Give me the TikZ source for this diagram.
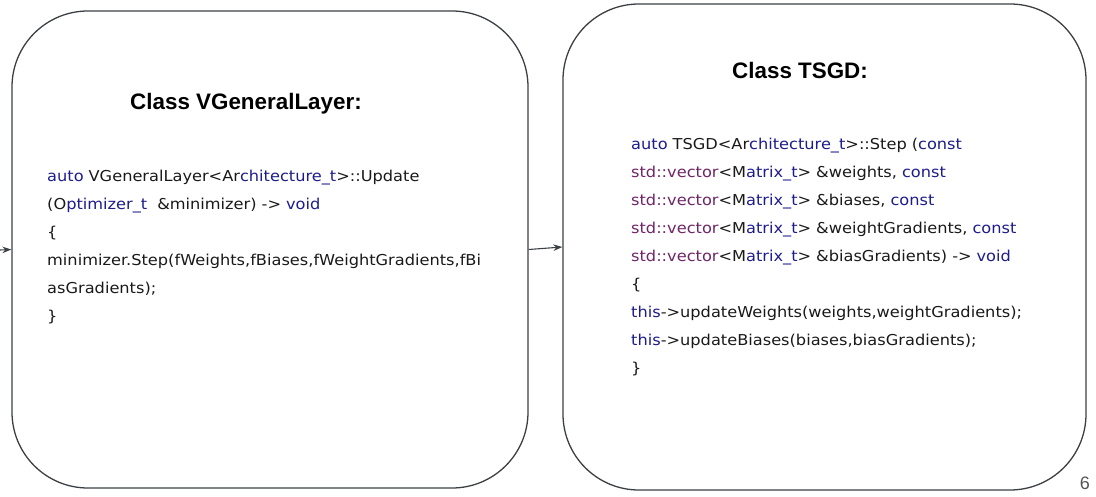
\documentclass[tikz,border=0pt]{standalone}
\usepackage{fontspec}
\setmainfont{Liberation Sans}
\newfontfamily\codefont[FakeStretch=1.08]{DejaVu Sans}
\usetikzlibrary{arrows.meta}
\definecolor{kw}{RGB}{28,28,140}
\definecolor{tp}{RGB}{112,36,104}
\definecolor{edgec}{RGB}{60,64,68}
\definecolor{txt}{RGB}{25,25,25}
\newcommand{\kwd}[1]{\textcolor{kw}{#1}}
\newcommand{\tpd}[1]{\textcolor{tp}{#1}}
\begin{document}
\begin{tikzpicture}[x=1pt,y=-1pt,
 box/.style={draw=edgec, line width=1.3pt, rounded corners=76pt, inner sep=0pt},
 title/.style={font=\fontsize{22.4}{26}\selectfont\bfseries, anchor=base west, inner sep=0pt},
 code/.style={font=\codefont\fontsize{15}{28}\selectfont, text=txt, anchor=base west, inner sep=0pt, align=left, text width=500pt},
 link/.style={draw=edgec, line width=1.1pt, -{Stealth[length=9pt,width=6.5pt]}}]
\useasboundingbox (0,0) rectangle (1096,497);
\node[box, minimum width=516pt, minimum height=477pt] (L) at (270,249.5) {};
\node[box, minimum width=523pt, minimum height=486pt] (R) at (824.5,247) {};
\node[title] (tL) at (130,110) {Class VGeneralLayer:};
\node[title] (tR) at (732,79) {Class TSGD:};
\node[code] (cL) at (47,182) {\kwd{auto} VGeneralLayer<Ar\kwd{chitecture\_t}>::Update\\
(O\kwd{ptimizer\_t}\ \ \&minimizer) -> \kwd{void}\\
\{\\
minimizer.Step(fWeights,fBiases,fWeightGradients,fBi\\
asGradients);\\
\}};
\node[code] (cR) at (631,150) {\kwd{auto} TSGD<Ar\kwd{chitecture\_t}>::Step (\kwd{const}\\
\tpd{std::vector}<M\kwd{atrix\_t}> \&weights, \kwd{const}\\
\tpd{std::vector}<M\kwd{atrix\_t}> \&biases, \kwd{const}\\
\tpd{std::vector}<M\kwd{atrix\_t}> \&weightGradients, \kwd{const}\\
\tpd{std::vector}<M\kwd{atrix\_t}> \&biasGradients) -> \kwd{void}\\
\{\\
\kwd{this}->updateWeights(weights,weightGradients);\\
\kwd{this}->updateBiases(biases,biasGradients);\\
\}};
\coordinate (in) at (0,250);
\draw[link] (in) -- (L.west);
\draw[link] (L.east) -- (R.west);
\node[font=\fontsize{18}{20}\selectfont, text={rgb,255:red,85;green,85;blue,85}, anchor=base east, inner sep=0pt] (pg) at (1090,489) {6};
\end{tikzpicture}
\end{document}
